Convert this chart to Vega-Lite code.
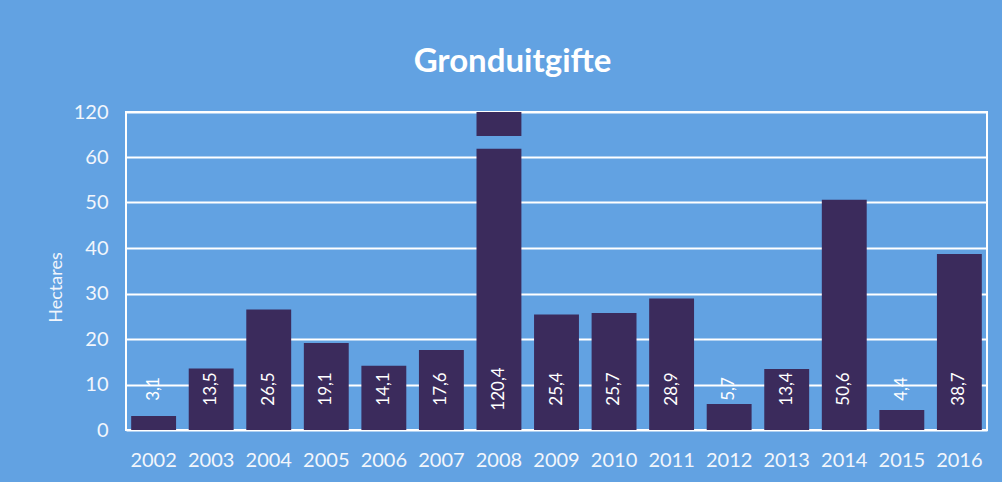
{
  "$schema": "https://vega.github.io/schema/vega-lite/v6.json",
  "width": 861,
  "height": 318,
  "autosize": {"type": "none"},
  "padding": {"left": 126, "top": 112, "right": 15, "bottom": 52},
  "background": "#62a2e2",
  "config": {
    "locale": {"number": {"decimal": ",", "thousands": ".", "grouping": [3], "currency": ["€", ""]}},
    "view": {"stroke": "#ffffff", "strokeWidth": 2},
    "font": "Lato"
  },
  "title": {
    "text": "Gronduitgifte",
    "font": "Lato",
    "fontSize": 33,
    "fontWeight": "bold",
    "color": "#ffffff",
    "anchor": "middle",
    "frame": "group",
    "dx": -44,
    "offset": 23
  },
  "data": {
    "values": [
      {"Year": "2002", "Hectares": 3.1},
      {"Year": "2003", "Hectares": 13.5},
      {"Year": "2004", "Hectares": 26.5},
      {"Year": "2005", "Hectares": 19.1},
      {"Year": "2006", "Hectares": 14.1},
      {"Year": "2007", "Hectares": 17.6},
      {"Year": "2008", "Hectares": 120.4},
      {"Year": "2009", "Hectares": 25.4},
      {"Year": "2010", "Hectares": 25.7},
      {"Year": "2011", "Hectares": 28.9},
      {"Year": "2012", "Hectares": 5.7},
      {"Year": "2013", "Hectares": 13.4},
      {"Year": "2014", "Hectares": 50.6},
      {"Year": "2015", "Hectares": 4.4},
      {"Year": "2016", "Hectares": 38.7}
    ]
  },
  "encoding": {
    "x": {
      "field": "Year",
      "type": "ordinal",
      "scale": {"paddingInner": 0.22, "paddingOuter": 0.09},
      "axis": {
        "title": null,
        "labelAngle": 0,
        "labelFont": "Lato",
        "labelFontSize": 20,
        "labelColor": "#f2f6fc",
        "labelPadding": 20,
        "ticks": false,
        "domain": false,
        "grid": false
      }
    }
  },
  "layer": [
    {
      "mark": {"type": "bar", "color": "#3b2b5c"},
      "encoding": {
        "y": {
          "field": "Hectares",
          "type": "quantitative",
          "scale": {"domain": [0, 60, 120], "range": [318, 45, 0], "clamp": true},
          "axis": {
            "title": "Hectares",
            "titleFont": "Lato",
            "titleFontSize": 18,
            "titleFontWeight": "normal",
            "titleColor": "#f2f6fc",
            "titlePadding": 8,
            "titleY": 175,
            "values": [0, 10, 20, 30, 40, 50, 60, 120],
            "labelFont": "Lato",
            "labelFontSize": 20,
            "labelColor": "#f2f6fc",
            "labelPadding": 18,
            "ticks": false,
            "domain": false,
            "grid": true,
            "gridColor": "#ffffff",
            "gridWidth": 2,
            "gridOpacity": 1
          }
        }
      }
    },
    {
      "transform": [{"filter": "datum.Year == '2008'"}],
      "mark": {"type": "rect", "color": "#62a2e2", "width": 50},
      "encoding": {
        "y": {"datum": 71, "type": "quantitative"},
        "y2": {"datum": 88}
      }
    },
    {
      "mark": {"type": "text", "angle": -90, "align": "center", "baseline": "middle", "dx": 41, "color": "#ffffff", "font": "Lato", "fontSize": 17},
      "encoding": {
        "y": {"datum": 0, "type": "quantitative"},
        "text": {"field": "Hectares", "type": "quantitative", "format": ".1f"}
      }
    }
  ]
}
